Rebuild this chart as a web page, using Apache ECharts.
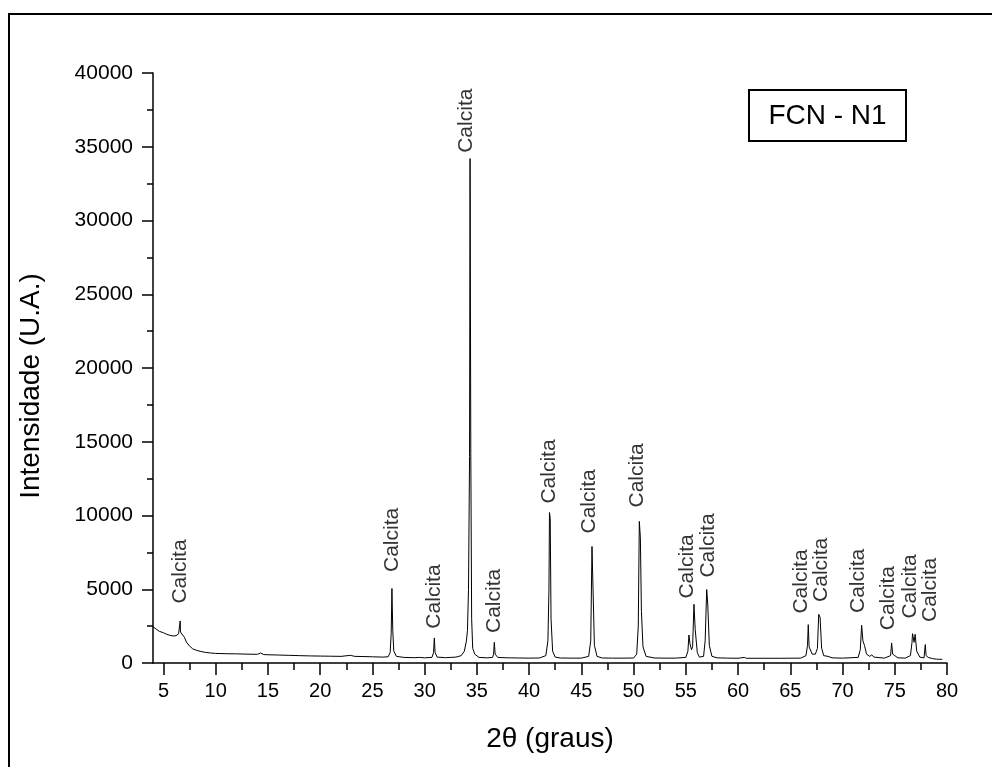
<!DOCTYPE html>
<html>
<head>
<meta charset="utf-8">
<script src="https://cdn.jsdelivr.net/npm/echarts@6/dist/echarts.min.js"></script>
<style>
  html, body { margin: 0; padding: 0; background: #fff; }
  #chart { width: 992px; height: 767px; }
</style>
</head>
<body>
<div id="chart"></div>
<script>
// XRD pattern of sample FCN - N1: 2θ (degrees) and intensity (a.u.)
const twoTheta = [
  4.0, 4.3, 4.6, 5.0, 5.3, 5.6, 5.9, 6.2, 6.45, 6.57, 6.6, 6.63, 6.8, 7.0, 7.2, 7.5, 7.8, 8.2, 8.6, 9.0,
  9.5, 10, 11, 12, 13, 14, 14.3, 14.6, 15, 16, 17, 18, 19, 20, 21, 22, 22.9, 23.3, 24, 25,
  26, 26.5, 26.7, 26.8, 26.87, 26.95, 27.05, 27.3, 28, 29, 29.5, 30, 30.7, 30.85, 30.93, 31.0, 31.2, 32, 33, 33.5,
  33.8, 34.0, 34.1, 34.2, 34.3, 34.35, 34.42, 34.5, 34.6, 34.8, 35.2, 36, 36.5, 36.6, 36.67, 36.75, 37, 37.9, 38.0, 38.2,
  39, 40, 41, 41.6, 41.8, 41.9, 41.95, 42.02, 42.1, 42.25, 42.5, 43, 44, 45, 45.7, 45.9, 46.02, 46.12, 46.25, 46.5,
  47, 48, 49, 50, 50.3, 50.45, 50.55, 50.65, 50.75, 50.9, 51.2, 52, 53, 54, 55, 55.2, 55.3, 55.4, 55.55, 55.65,
  55.78, 55.9, 56.1, 56.3, 56.7, 56.85, 57.0, 57.1, 57.25, 57.5, 58, 59, 60, 60.6, 60.8, 62, 64, 66, 66.5, 66.65,
  66.72, 66.8, 66.95, 67.1, 67.4, 67.6, 67.72, 67.85, 68.0, 68.2, 68.6, 69, 70, 71.5, 71.7, 71.83, 71.95, 72.1, 72.3, 72.6,
  72.8, 73, 74, 74.6, 74.7, 74.8, 75.0, 75.3, 76, 76.5, 76.65, 76.7, 76.85, 76.95, 77.1, 77.4, 77.8, 77.92, 78.0, 78.2,
  78.6, 79, 79.3, 79.45, 79.55
];
const intensity = [
  2450, 2300, 2150, 2050, 1950, 1880, 1830, 1850, 1980, 2100, 2850, 2100, 2000, 1750, 1420, 1150, 960, 850, 780, 720,
  680, 650, 630, 620, 600, 590, 680, 570, 560, 540, 520, 500, 480, 470, 460, 450, 520, 450, 440, 420,
  400, 420, 700, 2000, 5050, 2200, 800, 450, 380, 360, 380, 350, 380, 700, 1700, 700, 400, 360, 400, 500,
  800, 1500, 2200, 5000, 14000, 34200, 14200, 3000, 1000, 600, 380, 350, 380, 600, 1400, 600, 380, 350, 450, 350,
  340, 330, 340, 500, 1500, 5000, 10200, 9800, 3000, 800, 400, 340, 330, 330, 450, 1500, 7900, 5000, 1200, 450,
  340, 330, 330, 340, 600, 2500, 9600, 8500, 3500, 1100, 450, 340, 330, 330, 380, 800, 1900, 1300, 900, 1100,
  3980, 2265, 700, 400, 450, 1500, 4980, 4000, 1200, 450, 350, 330, 320, 380, 320, 320, 320, 330, 500, 1200,
  2600, 1100, 1085, 600, 600, 1000, 3300, 3100, 1000, 500, 450, 350, 330, 380, 900, 2560, 1500, 1200, 600, 450,
  550, 400, 330, 500, 1360, 600, 500, 350, 330, 500, 1400, 1990, 1400, 1950, 800, 400, 350, 1250, 500, 380,
  300, 260, 250, 180, 250
];

// Phase annotations: where each "Calcita" tag starts (2θ, intensity)
const phaseName = 'Calcita';
const tagTheta = [6.6, 26.86, 30.93, 34.0, 36.65, 41.94, 45.74, 50.36, 55.09, 57.15, 66.09, 68.0, 71.5, 74.38, 76.45, 78.37];
const tagBase  = [4030, 6170, 2330, 34590, 2035, 10810, 8780, 10540, 4370, 5790, 3350, 4140, 3390, 2220, 3010, 2780];

// Axis ticks
const yMin = 0, yMax = 40000, yStep = 5000;
const xMin = 4, xMax = 80;
const xMajorTicks = [5, 10, 15, 20, 25, 30, 35, 40, 45, 50, 55, 60, 65, 70, 75, 80];
const xMinorTicks = [7.5, 12.5, 17.5, 22.5, 27.5, 32.5, 37.5, 42.5, 47.5, 52.5, 57.5, 62.5, 67.5, 72.5, 77.5];

const FONT = '"Liberation Sans", Arial, sans-serif';

const lineData = twoTheta.map((t, i) => [t, intensity[i]]);
const tagData = tagTheta.map((t, i) => [t, tagBase[i]]);

const chart = echarts.init(document.getElementById('chart'), null, { renderer: 'canvas' });

chart.setOption({
  animation: false,
  backgroundColor: '#fff',
  grid: { left: 153, right: 45, top: 73, bottom: 104, containLabel: false, outerBoundsMode: 'none' },
  xAxis: [
    {
      type: 'value', min: xMin, max: xMax,
      name: '2θ (graus)', nameLocation: 'middle', nameGap: 62,
      nameTextStyle: { fontFamily: FONT, fontSize: 28, color: '#000' },
      axisLine: { show: true, onZero: false, lineStyle: { color: '#000', width: 1.5 } },
      axisTick: { show: true, inside: false, length: 12, customValues: xMajorTicks, lineStyle: { color: '#000', width: 1.5 } },
      axisLabel: { show: true, margin: 18, customValues: xMajorTicks, fontFamily: FONT, fontSize: 20, color: '#000' },
      splitLine: { show: false }
    },
    {
      type: 'value', min: xMin, max: xMax, position: 'bottom',
      axisLine: { show: false },
      axisTick: { show: true, inside: false, length: 7, customValues: xMinorTicks, lineStyle: { color: '#000', width: 1.5 } },
      axisLabel: { show: false },
      splitLine: { show: false }
    }
  ],
  yAxis: {
    type: 'value', min: yMin, max: yMax, interval: yStep,
    name: 'Intensidade (U.A.)', nameLocation: 'middle', nameGap: 108,
    nameTextStyle: { fontFamily: FONT, fontSize: 28, color: '#000', padding: [0, 36, 0, 0] },
    axisLine: { show: true, lineStyle: { color: '#000', width: 1.5 } },
    axisTick: { show: true, inside: false, length: 11, lineStyle: { color: '#000', width: 1.5 } },
    minorTick: { show: true, splitNumber: 2, length: 6, lineStyle: { color: '#000', width: 1.5 } },
    axisLabel: { margin: 20, fontFamily: FONT, fontSize: 21, color: '#000', formatter: v => String(v) },
    splitLine: { show: false },
    minorSplitLine: { show: false }
  },
  series: [
    {
      type: 'line',
      data: lineData,
      showSymbol: false,
      symbol: 'none',
      lineStyle: { color: '#000', width: 1 },
      sampling: null,
      silent: true
    },
    {
      type: 'scatter',
      data: tagData,
      symbolSize: 0,
      silent: true,
      label: {
        show: true,
        formatter: phaseName,
        position: 'inside',
        rotate: 90,
        align: 'left',
        verticalAlign: 'middle',
        fontFamily: FONT,
        fontSize: 21,
        color: '#000'
      }
    }
  ],
  graphic: [
    {
      type: 'rect', z: -10, silent: true,
      shape: { x: 9, y: 14, width: 1200, height: 1000 },
      style: { fill: 'none', stroke: '#000', lineWidth: 2 }
    },
    {
      type: 'group', left: 748, top: 89, silent: true,
      children: [
        { type: 'rect', shape: { x: 0, y: 0, width: 157, height: 51 }, style: { fill: '#fff', stroke: '#000', lineWidth: 2 } },
        { type: 'text', x: 78.5, y: 26, style: { text: 'FCN - N1', font: '28px "Liberation Sans", Arial, sans-serif', fill: '#000', align: 'center', verticalAlign: 'middle' } }
      ]
    }
  ]
});
</script>
</body>
</html>
